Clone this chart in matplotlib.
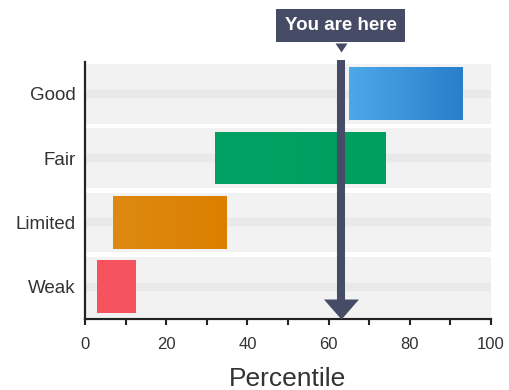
import numpy as np
import matplotlib
matplotlib.use("Agg")
import matplotlib.pyplot as plt
from matplotlib.colors import LinearSegmentedColormap
import matplotlib.transforms as mtransforms

plt.rcParams['font.family'] = ['Liberation Sans', 'DejaVu Sans']

# Percentile ranges per rating level
categories = ["Weak", "Limited", "Fair", "Good"]
range_start = [3, 7, 32, 65]
range_end = [12.5, 35, 74, 93]
# (left colour, right colour) of each bar
bar_colors = [("#f5535f", "#f5535f"),
              ("#dc8912", "#dd7f00"),
              ("#02a062", "#009e5f"),
              ("#4ca8e8", "#2b7ecb")]
marker_value = 63
marker_label = "You are here"
x_ticks = [0, 20, 40, 60, 80, 100]
x_label = "Percentile"

slate = "#464b66"

fig = plt.figure(figsize=(5.1, 3.9), dpi=100)
ax = fig.add_axes([85 / 510, 1 - 319 / 390, 406 / 510, 257.5 / 390])

ypos = np.arange(len(categories))

# Background bands with a faint centre stripe
ax.barh(ypos, [100] * len(categories), left=0, height=0.93,
        color="#f2f2f2", zorder=0)
for y in ypos:
    ax.axhline(y, color="#e9e9e9", lw=6, zorder=0.5)

# Range bars, filled with a left-to-right gradient
widths = [e - s for s, e in zip(range_start, range_end)]
bars = ax.barh(ypos, widths, left=range_start, height=0.82,
               color="none", zorder=2)
for bar, (c0, c1) in zip(bars, bar_colors):
    cmap = LinearSegmentedColormap.from_list("g", [c0, c1])
    x0, y0 = bar.get_x(), bar.get_y()
    w, h = bar.get_width(), bar.get_height()
    img = ax.imshow(np.linspace(0, 1, 64).reshape(1, -1), cmap=cmap,
                    extent=[x0, x0 + w, y0, y0 + h], aspect="auto",
                    zorder=1.5, interpolation="bilinear")
    img.set_clip_path(bar)

ax.set_xlim(0, 100)
ax.set_ylim(-0.5, 3.5)
ax.set_yticks(ypos)
ax.set_yticklabels(categories)
ax.set_xticks(x_ticks)
ax.set_xticks(np.arange(10, 100, 20), minor=True)
ax.tick_params(axis="y", length=0, pad=7, labelsize=13.5, labelcolor="#333333")
ax.tick_params(axis="x", which="both", direction="out", length=4,
               width=1.5, color="#222222", pad=9, labelsize=12,
               labelcolor="#333333")
ax.set_xlabel(x_label, fontsize=19, color="#333333", labelpad=11)

for side in ("top", "right"):
    ax.spines[side].set_visible(False)
for side in ("left", "bottom"):
    ax.spines[side].set_linewidth(1.6)
    ax.spines[side].set_color("#222222")

# Position marker: vertical shaft with arrow head resting on the x axis
blend = mtransforms.blended_transform_factory(ax.transData, ax.transAxes)
ax.plot([marker_value, marker_value], [0.07, 1.006], color=slate,
        lw=5.8, solid_capstyle="butt", transform=blend, clip_on=False,
        zorder=5)
ax.plot(marker_value, 0, transform=blend, clip_on=False, zorder=6,
        marker=[(-17.5, 20), (17.5, 20), (0, 0)], markersize=28.8,
        color=slate, markeredgewidth=0)

# Callout label above the plot
ax.text(marker_value, 1 + 36 / 257.5, marker_label, transform=blend,
        ha="center", va="center", fontsize=13.5, fontweight="bold",
        color="white", zorder=7,
        bbox=dict(boxstyle="square,pad=0.45", fc=slate, ec="none"))
ax.plot(marker_value, 1 + 9.5 / 257.5, transform=blend, clip_on=False,
        marker=[(-6, 9), (6, 9), (0, 0)], markersize=13,
        color=slate, markeredgewidth=0, zorder=6)

fig.savefig("out.png", dpi=100)
